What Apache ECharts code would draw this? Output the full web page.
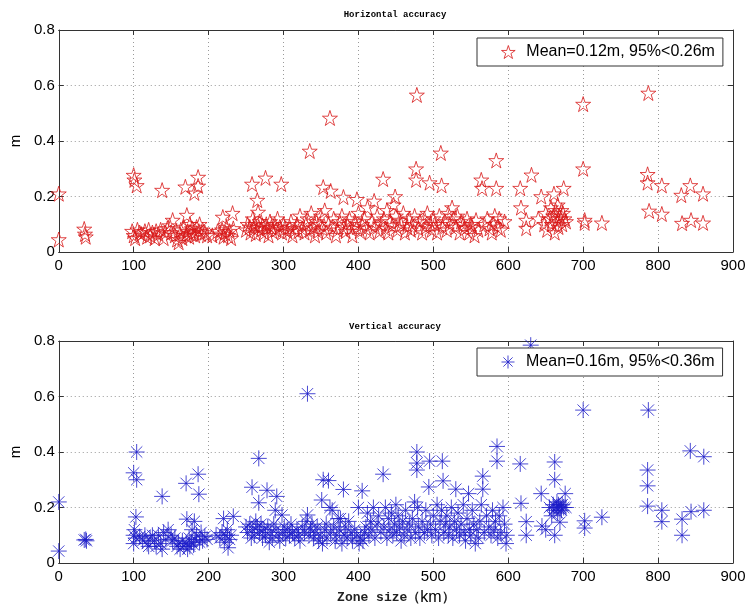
<!DOCTYPE html>
<html>
<head>
<meta charset="utf-8">
<script src="https://cdn.jsdelivr.net/npm/echarts@6/dist/echarts.min.js"></script>
<style>
html,body{margin:0;padding:0;background:#fff;}
#chart{width:749px;height:608px;}
</style>
</head>
<body>
<div id="chart"></div>
<script>
const titles = ['Horizontal accuracy', 'Vertical accuracy'];
const seriesNames = ['Mean=0.12m, 95%<0.26m', 'Mean=0.16m, 95%<0.36m'];
const xLabel = 'Zone size（km）';
const yLabel = 'm';

// Horizontal accuracy: [zone size km, error m]
const horizontalPoints = [
[0,0.21],[0,0.045],[34,0.083],[35,0.065],[36,0.055],
[100,0.277],[104,0.24],[101,0.26],
[98,0.075],[100,0.06],[102,0.05],[105,0.08],[108,0.07],[110,0.065],[115,0.075],[118,0.055],[120,0.08],[122,0.06],[125,0.07],[128,0.05],[130,0.075],[133,0.065],[136,0.08],[138,0.223],[140,0.05],[142,0.07],[145,0.085],[148,0.095],[150,0.07],[152,0.115],[155,0.06],[158,0.045],[160,0.035],[162,0.065],[163,0.08],[165,0.05],[167,0.09],[169,0.235],[170,0.06],[171,0.133],[172,0.075],[174,0.055],[175,0.1],[177,0.065],[178,0.085],[180,0.07],[181,0.213],[182,0.06],[184,0.09],[186,0.27],[186,0.238],[187,0.075],[188,0.1],[190,0.065],[192,0.08],[195,0.07],[198,0.06],
[205,0.06],[212,0.075],[215,0.065],[218,0.08],[219,0.126],[220,0.055],[222,0.07],[224,0.09],[226,0.06],[228,0.075],[230,0.05],[232,0.14],[233,0.085],
[250,0.08],[252,0.1],[255,0.09],[256,0.07],[258,0.245],[259,0.12],[260,0.085],[262,0.1],[263,0.065],[265,0.187],[266,0.144],[267,0.09],[268,0.11],[270,0.08],[272,0.095],[274,0.07],[276,0.267],[277,0.1],[278,0.085],[280,0.06],[282,0.11],[284,0.09],[285,0.075],[288,0.1],[290,0.08],[292,0.12],[295,0.09],[297,0.245],[298,0.07],[300,0.1],[302,0.085],[305,0.075],[308,0.09],[310,0.11],[312,0.06],[315,0.08],[318,0.1],[320,0.075],[322,0.13],[325,0.085],[328,0.07],[330,0.1],[332,0.12],[335,0.364],[335,0.08],[337,0.14],[340,0.09],[342,0.06],[344,0.11],[346,0.075],[348,0.1],[350,0.13],[352,0.085],[353,0.234],[355,0.15],[357,0.07],[360,0.1],[362,0.483],[363,0.22],[365,0.09],[367,0.12],[370,0.06],[372,0.08],[375,0.11],[378,0.13],[380,0.198],[380,0.09],[383,0.075],[385,0.1],[388,0.12],[390,0.085],[392,0.06],[395,0.11],[398,0.19],[398,0.09],[400,0.14],[402,0.075],[405,0.1],[408,0.12],[410,0.085],[412,0.16],[415,0.07],[418,0.11],[421,0.184],[422,0.09],[425,0.13],[428,0.075],[430,0.1],[433,0.263],[434,0.12],[436,0.085],[438,0.15],[440,0.07],[442,0.11],[445,0.095],[447,0.17],[449,0.2],[450,0.13],[452,0.08],[455,0.115],[457,0.1],[460,0.14],[462,0.07],[465,0.09],[468,0.12],[470,0.08],[472,0.1],[475,0.13],[477,0.3],[477,0.26],[478,0.566],[480,0.085],[482,0.11],[485,0.07],[488,0.12],[490,0.09],[492,0.14],[495,0.25],[496,0.1],[498,0.08],[500,0.12],[502,0.1],[505,0.07],[508,0.13],[510,0.357],[511,0.24],[512,0.09],[515,0.11],[518,0.08],[520,0.14],[522,0.1],[525,0.16],[527,0.12],[530,0.09],[532,0.13],[535,0.07],[537,0.11],[540,0.1],[542,0.085],[545,0.12],[548,0.07],[550,0.1],[552,0.09],[555,0.06],[557,0.115],[560,0.08],[564,0.26],[565,0.23],[568,0.1],[572,0.12],[575,0.085],[578,0.07],[580,0.1],[582,0.13],[584,0.33],[584,0.23],[586,0.09],[588,0.12],[590,0.08],[595,0.11],
[616,0.23],[617,0.16],[624,0.115],[624,0.086],[631,0.278],[640,0.12],[644,0.2],[648,0.1],[650,0.14],[652,0.08],[655,0.12],[657,0.16],[658,0.1],[660,0.13],[661,0.21],[662,0.07],[663,0.15],[665,0.11],[666,0.17],[667,0.09],[668,0.13],[670,0.12],[671,0.15],[672,0.1],[673,0.14],[674,0.23],[675,0.12],[677,0.11],
[700,0.533],[700,0.30],[702,0.105],[702,0.115],[725,0.105],
[787,0.573],[786,0.28],[786,0.25],[788,0.148],[805,0.24],[805,0.137],[831,0.205],[843,0.24],[860,0.21],[832,0.104],[844,0.115],[860,0.105]
];

// Vertical accuracy: [zone size km, error m]
const verticalPoints = [
[0,0.22],[0,0.043],[34,0.083],[36,0.085],[37,0.08],
[100,0.325],[104,0.40],[104,0.30],[103,0.166],[101,0.12],[100,0.10],[100,0.07],[103,0.09],
[108,0.095],[112,0.08],[115,0.1],[118,0.07],[120,0.06],[122,0.09],[125,0.1],[128,0.08],[130,0.06],[133,0.1],[136,0.07],[138,0.24],[138,0.05],[140,0.11],[143,0.085],[146,0.12],[150,0.1],[152,0.08],[155,0.09],[158,0.06],[160,0.07],[162,0.05],[165,0.08],[167,0.06],[170,0.287],[170,0.07],[171,0.158],[172,0.05],[174,0.09],[175,0.06],[177,0.075],[178,0.12],[180,0.065],[181,0.15],[182,0.085],[184,0.1],[186,0.32],[187,0.248],[188,0.075],[190,0.11],[192,0.08],[195,0.095],[198,0.085],
[210,0.1],[215,0.09],[218,0.11],[220,0.16],[221,0.075],[223,0.1],[225,0.12],[226,0.055],[228,0.085],[230,0.1],[233,0.168],
[250,0.13],[252,0.11],[255,0.14],[257,0.09],[258,0.273],[259,0.12],[261,0.1],[263,0.15],[265,0.13],[267,0.377],[267,0.217],[268,0.11],[270,0.14],[272,0.09],[274,0.12],[276,0.1],[278,0.262],[279,0.13],[281,0.075],[283,0.11],[285,0.09],[287,0.14],[289,0.19],[290,0.12],[291,0.24],[293,0.1],[295,0.08],[298,0.173],[299,0.11],[301,0.13],[303,0.09],[305,0.12],[308,0.1],[310,0.14],[312,0.11],[315,0.09],[318,0.12],[320,0.1],[322,0.08],[325,0.13],[328,0.11],[330,0.15],[332,0.61],[332,0.173],[334,0.1],[336,0.12],[338,0.14],[340,0.09],[342,0.11],[345,0.13],[347,0.08],[349,0.1],[351,0.227],[352,0.07],[353,0.30],[355,0.12],[357,0.14],[358,0.09],[360,0.297],[362,0.2],[363,0.11],[365,0.19],[367,0.13],[369,0.08],[371,0.1],[373,0.16],[375,0.12],[376,0.16],[378,0.07],[380,0.265],[381,0.1],[383,0.13],[385,0.09],[387,0.15],[390,0.11],[392,0.08],[395,0.12],[398,0.1],[400,0.2],[401,0.07],[403,0.09],[405,0.26],[406,0.08],[408,0.11],[410,0.13],[412,0.18],[414,0.1],[416,0.15],[418,0.12],[420,0.2],[422,0.09],[425,0.14],[427,0.17],[430,0.11],[433,0.32],[434,0.13],[436,0.2],[438,0.09],[440,0.16],[442,0.12],[444,0.18],[446,0.1],[448,0.14],[450,0.21],[451,0.11],[453,0.17],[455,0.13],[457,0.08],[459,0.15],[461,0.1],[463,0.19],[465,0.12],[468,0.14],[470,0.09],[472,0.16],[475,0.22],[476,0.11],[478,0.40],[478,0.36],[478,0.335],[479,0.2],[480,0.13],[482,0.09],[485,0.15],[488,0.11],[490,0.19],[492,0.12],[494,0.274],[495,0.367],[496,0.14],[498,0.1],[500,0.17],[503,0.12],[505,0.21],[507,0.09],[509,0.15],[511,0.19],[512,0.367],[513,0.296],[514,0.11],[516,0.14],[518,0.17],[520,0.1],[522,0.13],[524,0.2],[526,0.09],[528,0.15],[530,0.266],[531,0.12],[533,0.18],[535,0.1],[537,0.14],[540,0.21],[541,0.11],[543,0.08],[545,0.16],[547,0.25],[548,0.12],[550,0.1],[552,0.19],[554,0.14],[556,0.07],[558,0.12],[560,0.09],[562,0.15],[564,0.21],[566,0.313],[566,0.266],[568,0.11],[571,0.17],[574,0.13],[577,0.1],[579,0.19],[581,0.12],[583,0.15],[585,0.42],[585,0.367],[586,0.09],[588,0.17],[590,0.11],[593,0.2],[595,0.14],[597,0.07],[598,0.1],
[616,0.357],[617,0.215],[624,0.149],[624,0.10],[630,0.785],[644,0.25],[645,0.133],[650,0.12],[655,0.2],[658,0.17],[660,0.21],[661,0.19],[662,0.364],[662,0.30],[662,0.10],[664,0.2],[665,0.22],[666,0.18],[667,0.21],[668,0.205],[669,0.147],[670,0.2],[671,0.19],[672,0.21],[674,0.2],[676,0.25],[677,0.2],
[700,0.551],[702,0.152],[702,0.126],[725,0.165],
[787,0.551],[786,0.335],[786,0.278],[786,0.205],[805,0.19],[805,0.149],[832,0.158],[832,0.10],[843,0.404],[844,0.185],[861,0.383],[861,0.19]
];

const xMin = 0, xMax = 900, xStep = 100;
const yMin = 0, yMax = 0.8, yStep = 0.2;

const STAR = 'path://M0,-100L22.45,-30.9L95.1,-30.9L36.3,11.8L58.8,80.9L0,38.2L-58.8,80.9L-36.3,11.8L-95.1,-30.9L-22.45,-30.9Z';
const ASTER = 'path://M0,-10L0,10M-10,0L10,0M-7.07,-7.07L7.07,7.07M-7.07,7.07L7.07,-7.07';

const tickFont = 'Liberation Sans, Arial, sans-serif';
const monoFont = 'Liberation Mono, DejaVu Sans Mono, monospace';
const axisColor = '#333';
const gridTops = [30, 341];
const colors = ['#d81818', '#1c1cc8'];

function xAxes(i) {
  return [{
    type: 'value', gridIndex: i, min: xMin, max: xMax, interval: xStep, position: 'bottom',
    axisLine: {show: true, onZero: false, lineStyle: {color: axisColor, width: 1}},
    axisTick: {show: true, inside: true, length: 5, lineStyle: {color: axisColor}},
    axisLabel: {color: '#000', fontSize: 15, fontFamily: tickFont, margin: 6},
    splitLine: {show: true, lineStyle: {color: '#9a9a9a', type: [1, 3], width: 1}},
    name: i === 1 ? '{a|Zone size（}{b|km}{a|）}' : '',
    nameLocation: 'middle', nameGap: 27,
    nameTextStyle: {rich: {a: {fontFamily: monoFont, fontSize: 13, fontWeight: 'bold', color: '#222'}, b: {fontFamily: tickFont, fontSize: 16, color: '#000'}}}
  }, {
    type: 'value', gridIndex: i, min: xMin, max: xMax, interval: xStep, position: 'top',
    axisLine: {show: true, onZero: false, lineStyle: {color: axisColor, width: 1}},
    axisTick: {show: true, inside: true, length: 5, lineStyle: {color: axisColor}},
    axisLabel: {show: false}, splitLine: {show: false}
  }];
}
function yAxes(i) {
  return [{
    type: 'value', gridIndex: i, min: yMin, max: yMax, interval: yStep, position: 'left',
    axisLine: {show: true, onZero: false, lineStyle: {color: axisColor, width: 1}},
    axisTick: {show: true, inside: true, length: 5, lineStyle: {color: axisColor}},
    axisLabel: {color: '#000', fontSize: 15, fontFamily: tickFont, margin: 4,
      formatter: v => (Math.round(v * 10) / 10).toString()},
    splitLine: {show: true, lineStyle: {color: '#9a9a9a', type: [1, 3], width: 1}},
    name: yLabel, nameLocation: 'middle', nameGap: 34, nameRotate: 90,
    nameTextStyle: {color: '#000', fontSize: 15, fontFamily: tickFont}
  }, {
    type: 'value', gridIndex: i, min: yMin, max: yMax, interval: yStep, position: 'right',
    axisLine: {show: true, onZero: false, lineStyle: {color: axisColor, width: 1}},
    axisTick: {show: true, inside: true, length: 5, lineStyle: {color: axisColor}},
    axisLabel: {show: false}, splitLine: {show: false}
  }];
}
function legendFor(i, top) {
  return {data: [seriesNames[i]], left: 477, top: top, orient: 'horizontal',
    padding: [6, 8, 6, 24], itemWidth: 26, itemHeight: 13,
    borderColor: '#333', borderWidth: 1, backgroundColor: '#fff',
    itemStyle: {color: 'rgba(0,0,0,0)', borderColor: colors[i], borderWidth: 1},
    textStyle: {fontFamily: tickFont, fontSize: 16, color: '#000'}};
}

const chart = echarts.init(document.getElementById('chart'), null, {renderer: 'canvas'});
chart.setOption({
  animation: false,
  backgroundColor: '#fff',
  title: [
    {text: titles[0], left: 390, top: 5, textAlign: 'center',
     textStyle: {fontFamily: monoFont, fontSize: 9, fontWeight: 'bold', color: '#000'}},
    {text: titles[1], left: 390, top: 317, textAlign: 'center',
     textStyle: {fontFamily: monoFont, fontSize: 9, fontWeight: 'bold', color: '#000'}}
  ],
  grid: [
    {left: 57, right: 16, top: gridTops[0], height: 222},
    {left: 57, right: 16, top: gridTops[1], height: 222}
  ],
  xAxis: [...xAxes(0), ...xAxes(1)],
  yAxis: [...yAxes(0), ...yAxes(1)],
  legend: [legendFor(0, 38), legendFor(1, 348)],
  series: [
    {name: seriesNames[0], type: 'scatter', xAxisIndex: 0, yAxisIndex: 0,
     data: horizontalPoints, symbol: STAR, symbolSize: 15,
     itemStyle: {color: 'rgba(0,0,0,0)', borderColor: colors[0], borderWidth: 1}},
    {name: seriesNames[1], type: 'scatter', xAxisIndex: 2, yAxisIndex: 2,
     data: verticalPoints, symbol: ASTER, symbolSize: 16,
     itemStyle: {color: 'rgba(0,0,0,0)', borderColor: colors[1], borderWidth: 1}}
  ]
});
</script>
</body>
</html>
